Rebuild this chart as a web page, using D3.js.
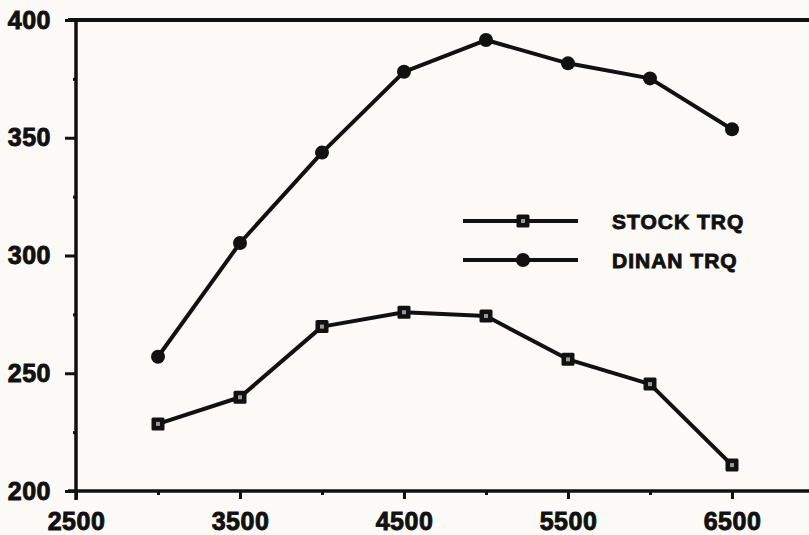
<!DOCTYPE html>
<html>
<head>
<meta charset="utf-8">
<script src="https://cdn.jsdelivr.net/npm/d3@7"></script>
<style>
  html, body { margin: 0; padding: 0; background: #fbfaf6; }
  svg { display: block; }
  .lbl { font-family: "Liberation Sans", Arial, sans-serif; font-weight: bold; fill: #111; stroke: #111; stroke-width: 0.9px; }
</style>
</head>
<body>
<svg id="chart" width="809" height="535"></svg>
<script>
// engine speed (rpm)
const rpm = [3000, 3500, 4000, 4500, 5000, 5500, 6000, 6500];
// torque readings
const stockTrq = [228.5, 239.8, 269.8, 275.9, 274.3, 255.9, 245.4, 211.0];
const dinanTrq = [257.0, 305.3, 343.7, 378.0, 391.5, 381.6, 375.2, 353.6];

const xMajor = [2500, 3500, 4500, 5500, 6500];
const xMinor = [3000, 4000, 5000, 6000];
const yMajor = [200, 250, 300, 350, 400];
const yMinor = [225, 275, 325, 375];

const legendItems = ['STOCK TRQ', 'DINAN TRQ'];

const ink = '#111';

const svg = d3.select('#chart');

const x = d3.scaleLinear().domain([2500, 7000]).range([76, 814]);
const y = d3.scaleLinear().domain([200, 400]).range([491, 20]);

// axes lines (left axis runs a bit below the bottom one, top rule runs across)
svg.append('line')
  .attr('x1', x(2500)).attr('x2', x(2500))
  .attr('y1', y(400)).attr('y2', y(200) + 9)
  .attr('stroke', ink).attr('stroke-width', 3.5);
svg.append('line')
  .attr('x1', x(2500) - 8).attr('x2', 809)
  .attr('y1', y(200)).attr('y2', y(200))
  .attr('stroke', ink).attr('stroke-width', 3.5);
svg.append('line')
  .attr('x1', x(2500) - 8).attr('x2', 809)
  .attr('y1', y(400)).attr('y2', y(400))
  .attr('stroke', ink).attr('stroke-width', 4);

// y ticks
const gy = svg.append('g').attr('transform', 'translate(' + x(2500) + ',0)');
gy.call(d3.axisLeft(y).tickValues(yMajor).tickSize(11).tickPadding(14).tickSizeOuter(0).tickFormat(d3.format('d')));
gy.append('g').call(d3.axisLeft(y).tickValues(yMinor).tickSize(3).tickFormat('').tickSizeOuter(0));

// x ticks
const gx = svg.append('g').attr('transform', 'translate(0,' + y(200) + ')');
gx.call(d3.axisBottom(x).tickValues(xMajor).tickSize(8).tickPadding(7).tickSizeOuter(0).tickFormat(d3.format('d')));
gx.append('g').call(d3.axisBottom(x).tickValues(xMinor).tickSize(4).tickFormat('').tickSizeOuter(0));

svg.selectAll('.domain').remove();
svg.selectAll('.tick line').attr('stroke', ink).attr('stroke-width', 3);
svg.selectAll('.tick text')
  .attr('class', 'lbl')
  .style('font-size', '25px')
  .style('letter-spacing', '0.5px')
  .attr('fill', ink);
gx.selectAll('.tick text').attr('dy', '0.95em');

// series lines
const line = d3.line()
  .x((d, i) => x(rpm[i]))
  .y(d => y(d));

[dinanTrq, stockTrq].forEach(s => {
  svg.append('path')
    .datum(s)
    .attr('d', line)
    .attr('fill', 'none').attr('stroke', ink)
    .attr('stroke-width', 4).attr('stroke-linejoin', 'round');
});

// markers
function squareMark(sel, cx, cy) {
  sel.append('rect')
    .attr('x', cx - 6.5).attr('y', cy - 6.5)
    .attr('width', 13).attr('height', 13)
    .attr('rx', 1.5)
    .attr('fill', ink);
  sel.append('rect')
    .attr('x', cx - 2).attr('y', cy - 2)
    .attr('width', 4).attr('height', 4)
    .attr('fill', '#999');
}
function dotMark(sel, cx, cy) {
  sel.append('circle')
    .attr('cx', cx).attr('cy', cy).attr('r', 7)
    .attr('fill', ink);
}

const marks = svg.append('g');
dinanTrq.forEach((v, i) => dotMark(marks, x(rpm[i]), y(v)));
stockTrq.forEach((v, i) => squareMark(marks, x(rpm[i]), y(v)));

// legend
const legend = svg.append('g');
const legY = [221, 260];
legendItems.forEach((name, i) => {
  legend.append('line')
    .attr('x1', 463).attr('x2', 578)
    .attr('y1', legY[i]).attr('y2', legY[i])
    .attr('stroke', ink).attr('stroke-width', 4);
  if (i === 0) squareMark(legend, 523, legY[i]);
  else dotMark(legend, 523, legY[i]);
  legend.append('text')
    .attr('class', 'lbl')
    .attr('x', 612).attr('y', legY[i])
    .attr('dy', '0.36em')
    .style('font-size', '21px')
    .style('letter-spacing', '1px')
    .text(name);
});
</script>
</body>
</html>
